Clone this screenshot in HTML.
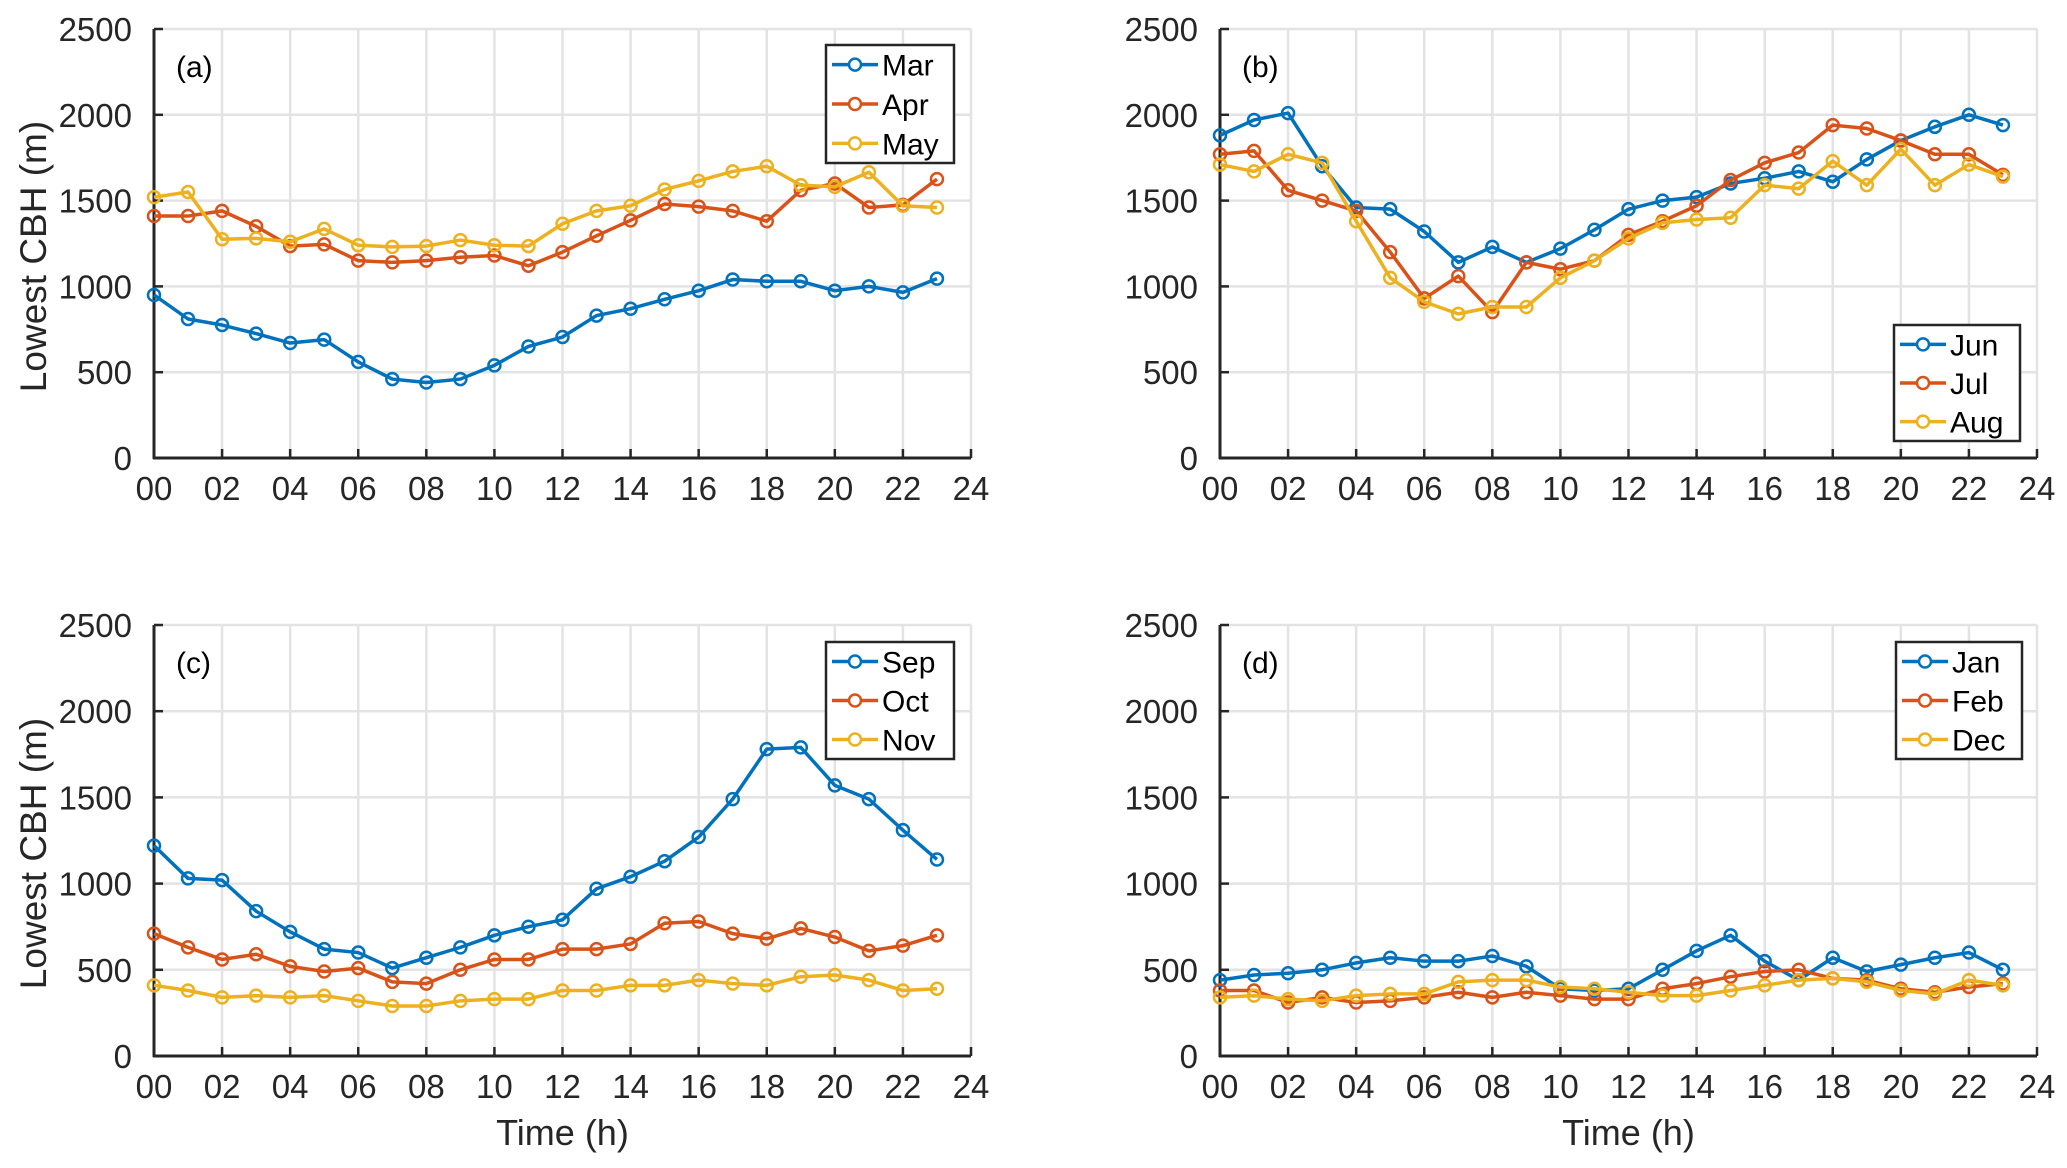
<!DOCTYPE html>
<html><head><meta charset="utf-8"><style>
body{margin:0;background:#fff}
svg{display:block;font-family:"Liberation Sans",sans-serif}
</style></head><body>
<svg id="chart" width="2067" height="1168" viewBox="0 0 2067 1168" xmlns="http://www.w3.org/2000/svg"></svg>
<script>
const hours = [0,1,2,3,4,5,6,7,8,9,10,11,12,13,14,15,16,17,18,19,20,21,22,23];
const xTicks = ["00","02","04","06","08","10","12","14","16","18","20","22","24"];
const yTicks = [0,500,1000,1500,2000,2500];
const colors = ["#0072BD","#D95319","#EDB120"];
const marNames = ["Mar","Apr","May"];
const marVals = [950,810,775,725,670,690,560,460,440,460,540,650,705,830,870,925,975,1040,1030,1030,975,1000,965,1045];
const aprVals = [1410,1410,1440,1350,1235,1245,1150,1140,1150,1170,1180,1120,1200,1295,1385,1480,1465,1440,1380,1560,1600,1460,1475,1625];
const mayVals = [1520,1550,1275,1280,1260,1335,1240,1230,1235,1270,1240,1235,1365,1440,1470,1565,1615,1670,1700,1590,1580,1665,1470,1460];
const junNames = ["Jun","Jul","Aug"];
const junVals = [1880,1970,2010,1700,1460,1450,1320,1140,1230,1140,1220,1330,1450,1500,1520,1600,1630,1670,1610,1740,1850,1930,2000,1940];
const julVals = [1770,1790,1560,1500,1440,1200,930,1060,850,1140,1100,1150,1300,1380,1470,1620,1720,1780,1940,1920,1850,1770,1770,1650];
const augVals = [1710,1670,1770,1720,1380,1050,910,840,880,880,1050,1150,1280,1370,1390,1400,1590,1570,1730,1590,1800,1590,1710,1640];
const sepNames = ["Sep","Oct","Nov"];
const sepVals = [1220,1030,1020,840,720,620,600,510,570,630,700,750,790,970,1040,1130,1270,1490,1780,1790,1570,1490,1310,1140];
const octVals = [710,630,560,590,520,490,510,430,420,500,560,560,620,620,650,770,780,710,680,740,690,610,640,700];
const novVals = [410,380,340,350,340,350,320,290,290,320,330,330,380,380,410,410,440,420,410,460,470,440,380,390];
const janNames = ["Jan","Feb","Dec"];
const janVals = [440,470,480,500,540,570,550,550,580,520,390,380,390,500,610,700,550,440,570,490,530,570,600,500];
const febVals = [380,380,310,340,310,320,340,370,340,370,350,330,330,390,420,460,490,500,450,440,390,370,400,420];
const decVals = [340,350,330,320,350,360,360,430,440,440,400,390,370,350,350,380,410,440,450,430,380,360,440,410];

const NS="http://www.w3.org/2000/svg";
const svg=document.getElementById('chart');
function mk(tag,attrs,parent,text){const e=document.createElementNS(NS,tag);for(const k in attrs)e.setAttribute(k,attrs[k]);if(text!==undefined)e.textContent=text;(parent||svg).appendChild(e);return e;}

const panels=[
 {id:"a",x0:154,x1:971,y0:29,y1:458,names:marNames,series:[marVals,aprVals,mayVals],leg:[826,45,954,163],ylab:true,xlab:false},
 {id:"b",x0:1220,x1:2037,y0:29,y1:458,names:junNames,series:[junVals,julVals,augVals],leg:[1894,325,2020,441],ylab:false,xlab:false},
 {id:"c",x0:154,x1:971,y0:625,y1:1056,names:sepNames,series:[sepVals,octVals,novVals],leg:[826,642,954,759],ylab:true,xlab:true},
 {id:"d",x0:1220,x1:2037,y0:625,y1:1056,names:janNames,series:[janVals,febVals,decVals],leg:[1896,642,2022,759],ylab:false,xlab:true}
];
panels.forEach(p=>{
 const g=mk('g',{});
 
 
 const xs=v=>p.x0+(v/24)*(p.x1-p.x0);
 const ys=v=>p.y1-(v/2500)*(p.y1-p.y0);
 xTicks.forEach((t,i)=>{const x=xs(i*2);mk('line',{x1:x,x2:x,y1:p.y0,y2:p.y1,stroke:'#e3e3e3','stroke-width':2.5},g);});
 yTicks.forEach(v=>{const y=ys(v);mk('line',{x1:p.x0,x2:p.x1,y1:y,y2:y,stroke:'#e3e3e3','stroke-width':2.5},g);});
 mk('line',{x1:p.x0,x2:p.x0,y1:p.y0,y2:p.y1+1,stroke:'#262626','stroke-width':3},g);
 mk('line',{x1:p.x0-1,x2:p.x1,y1:p.y1,y2:p.y1,stroke:'#262626','stroke-width':3},g);
 xTicks.forEach((t,i)=>{const x=xs(i*2);
  mk('line',{x1:x,x2:x,y1:p.y1,y2:p.y1-9,stroke:'#262626','stroke-width':2.5},g);
  const tl=mk('text',{x:x,y:p.y1+42,'text-anchor':'middle','font-size':33,fill:'#262626'},g,t);
  
  
 });
 yTicks.forEach(v=>{const y=ys(v);
  mk('line',{x1:p.x0,x2:p.x0+9,y1:y,y2:y,stroke:'#262626','stroke-width':2.5},g);
  const tl=mk('text',{x:p.x0-22,y:y+12,'text-anchor':'end','font-size':33,fill:'#262626'},g,String(v));
  
  
 });
 const pl=mk('text',{x:p.x0+22,y:p.y0+48,'font-size':30,fill:'#000'},g,'('+p.id+')');
 
 
 if(p.ylab){const yl=mk('text',{x:0,y:0,transform:`translate(46,${(p.y0+p.y1)/2+13}) rotate(-90)`,'text-anchor':'middle','font-size':37,fill:'#262626'},g,'Lowest CBH (m)');
  
  }
 if(p.xlab){const xl=mk('text',{x:(p.x0+p.x1)/2,y:1145,'text-anchor':'middle','font-size':36,fill:'#262626'},g,'Time (h)');
  
  }
 p.series.forEach((vals,si)=>{
  const sg=mk('g',{},g);
  
  
  const pts=vals.map((v,i)=>xs(hours[i])+','+ys(v)).join(' ');
  mk('polyline',{points:pts,fill:'none',stroke:colors[si],'stroke-width':3.5,'stroke-linejoin':'round'},sg);
  vals.forEach((v,i)=>{const c=mk('circle',{cx:xs(hours[i]),cy:ys(v),r:6,fill:'none',stroke:colors[si],'stroke-width':2.5},sg);
   
   });
 });
 const [lx0,ly0,lx1,ly1]=p.leg;
 const lg=mk('g',{},g);
 
 
 mk('rect',{x:lx0,y:ly0,width:lx1-lx0,height:ly1-ly0,fill:'#fff',stroke:'#262626','stroke-width':2.5},lg);
 const rh=(ly1-ly0)/3;
 p.names.forEach((n,si)=>{
  const cy=ly0+rh*(si+0.5);
  const e=mk('g',{},lg);
  
  
  mk('line',{x1:lx0+6,x2:lx0+52,y1:cy,y2:cy,stroke:colors[si],'stroke-width':3.5},e);
  mk('circle',{cx:lx0+29,cy:cy,r:6,fill:'#fff',stroke:colors[si],'stroke-width':2.5},e);
  mk('text',{x:lx0+56,y:cy+11,'font-size':30,fill:'#000'},e,n);
 });
});
</script>
</body></html>
